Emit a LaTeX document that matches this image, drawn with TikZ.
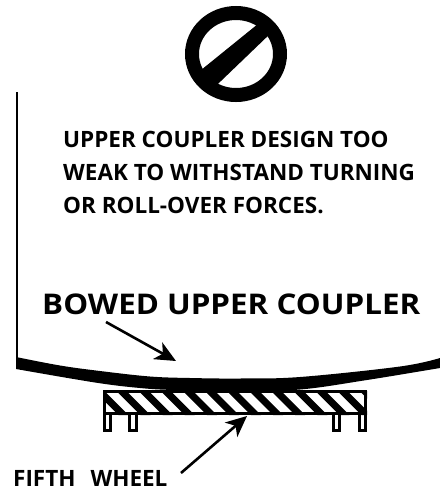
\documentclass[tikz,border=0pt]{standalone}
\usepackage{fontspec}
\setmainfont{Open Sans}
\newfontfamily\widefont[FakeStretch=1.1,BoldFont={Open Sans Bold}]{Open Sans}
\usetikzlibrary{arrows.meta}
\tikzset{
  lbl/.style={font=\bfseries\fontsize{#1}{#1}\selectfont,anchor=base west,inner sep=0pt,text=black},
  ptr/.style={line width=2.6pt,-{Stealth[length=21pt,width=19pt,inset=6pt]}},
  outl/.style={line width=3pt,black}
}
\begin{document}
\begin{tikzpicture}[x=1pt,y=-1pt]
\useasboundingbox (0,0) rectangle (440,491);
% prohibition sign
\draw[line width=14pt] (236,54) ellipse (44 and 41);
\fill (198,72.5) -- (261,21.5) -- (272,32) -- (208.5,93) -- cycle;
% wall and bowed coupler
\draw[line width=2pt] (17,92) -- (17,360);
\fill plot[smooth,tension=0.6] coordinates {(16,357) (60,365.5) (100,371) (150,376.5) (190,378) (240,378.5) (300,377) (400,366.5) (440,358)}
  -- plot[smooth,tension=0.6] coordinates {(440,368) (367,380) (300,389.5) (240,390.5) (175,390) (140,388) (95,382.5) (16,369)} -- cycle;
% fifth wheel hatch
\begin{scope}
\clip (103,391) rectangle (367,415);
\foreach \k in {-7,...,6}{
  \fill ({227+22.1*\k},391) -- ({237+22.1*\k},391) -- ({261+22.1*\k},415) -- ({251+22.1*\k},415) -- cycle;
}
\end{scope}
\draw[line width=1.2pt,white] (172,392.3) -- (228,392.3) (231,392.3) -- (253,392.3) (257,392.3) -- (291,392.3);
\draw[outl] (104.5,391.5) -- (104.5,413.5) -- (365.5,413.5) -- (365.5,391.5) -- cycle;
\draw[outl] (104.5,413) -- (104.5,430.5) -- (110.5,430.5) -- (110.5,413);
\draw[outl] (129.5,413) -- (129.5,430.5) -- (136.5,430.5) -- (136.5,413);
\draw[outl] (333.5,413) -- (333.5,430.5) -- (339.5,430.5) -- (339.5,413);
\draw[outl] (359.5,413) -- (359.5,430.5) -- (365.5,430.5) -- (365.5,413);
% labels
\node[lbl=22.5] (l1) at (63,147) {UPPER COUPLER DESIGN TOO};
\node[lbl=22.5] (l2) at (63,180) {WEAK TO WITHSTAND TURNING};
\node[lbl=22.5] (l3) at (63,213) {OR ROLL-OVER FORCES.};
\node[lbl=28.5,font=\widefont\bfseries\fontsize{28.5}{28.5}\selectfont] (bow) at (42,314.5) {BOWED UPPER COUPLER};
\node[lbl=22.5] (fw) at (13,486) {FIFTH\hspace{15pt}WHEEL};
\coordinate (a1) at (106,322);
\coordinate (a2) at (176,361);
\coordinate (b1) at (181,473);
\coordinate (b2) at (247,416);
\draw[ptr] (a1) -- (a2);
\draw[ptr] (b1) -- (b2);
\end{tikzpicture}
\end{document}
